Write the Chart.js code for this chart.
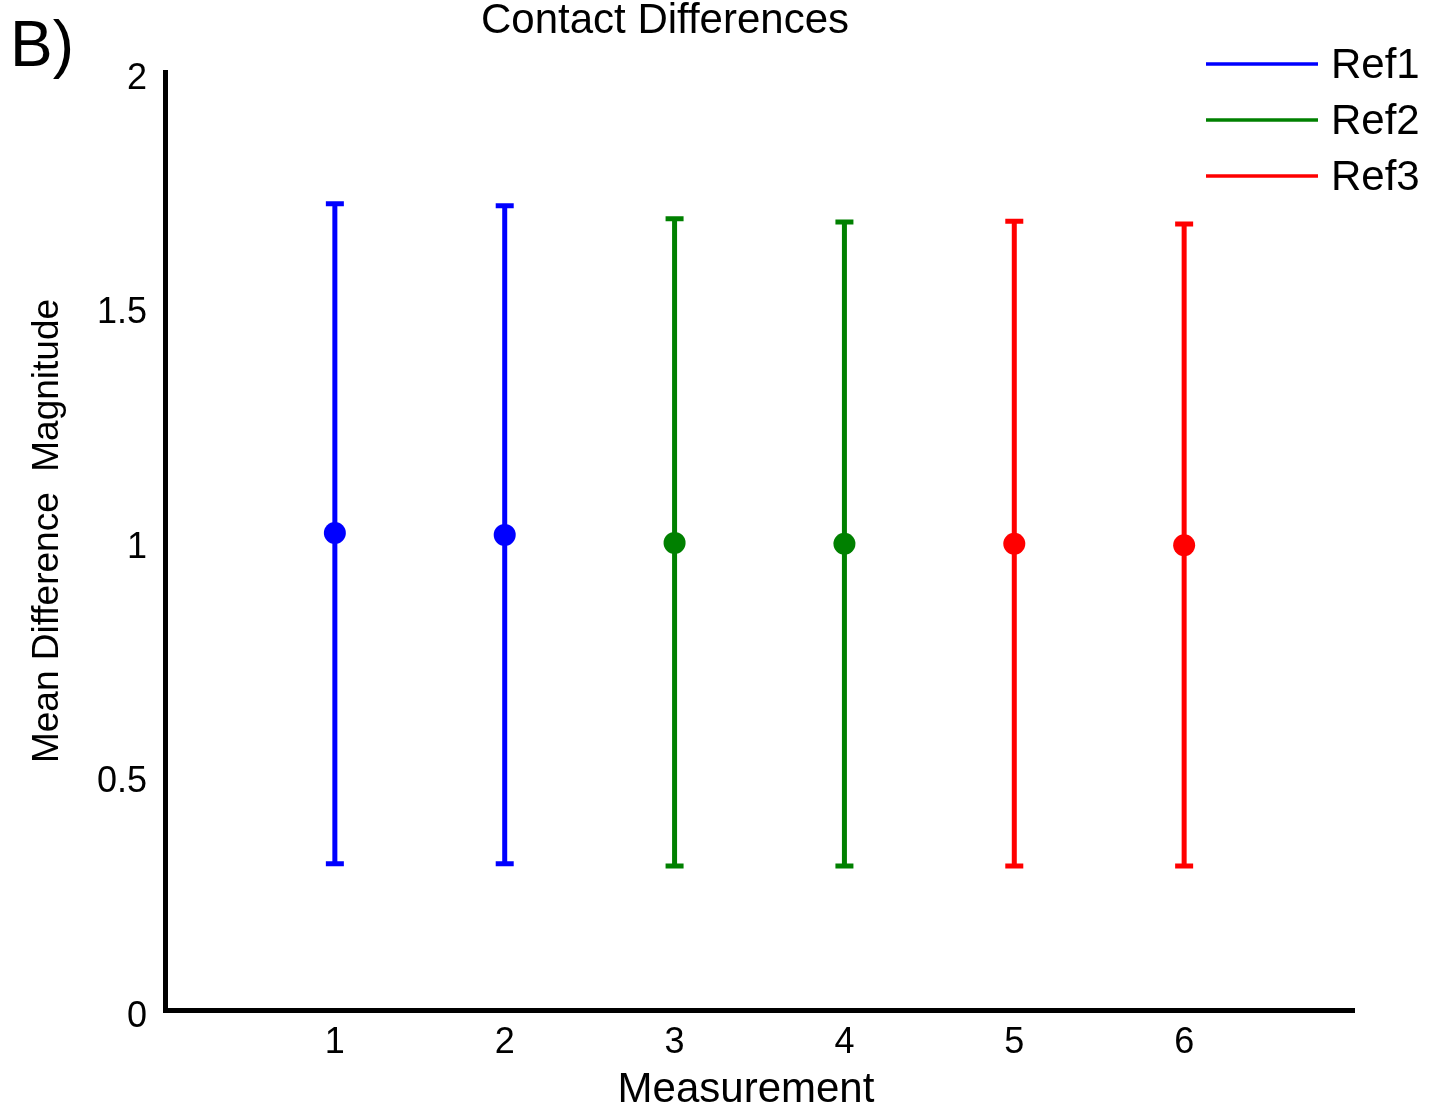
<!DOCTYPE html>
<html>
<head>
<meta charset="utf-8">
<script src="https://cdn.jsdelivr.net/npm/chart.js@4.4.1/dist/chart.umd.min.js"></script>
<style>
  html, body { margin: 0; padding: 0; background: #fff; }
  #wrap { width: 1429px; height: 1114px; }
</style>
</head>
<body>
<div id="wrap"><canvas id="myChart" width="1429" height="1114"></canvas></div>
<script>
// valores
var measurementTicks = [1, 2, 3, 4, 5, 6];
var yTicks = [0, 0.5, 1, 1.5, 2];

var refLabels = ['Ref1', 'Ref2', 'Ref3'];
var refColors = ['#0000ff', '#008000', '#ff0000'];

var ref1X = [1, 2];
var ref1Mean = [1.017, 1.013];
var ref1Low = [0.312, 0.312];
var ref1High = [1.719, 1.715];

var ref2X = [3, 4];
var ref2Mean = [0.996, 0.994];
var ref2Low = [0.307, 0.307];
var ref2High = [1.687, 1.680];

var ref3X = [5, 6];
var ref3Mean = [0.994, 0.991];
var ref3Low = [0.307, 0.307];
var ref3High = [1.682, 1.676];

var FONT = '"Liberation Sans", Arial, sans-serif';

function makeSet(i, xs, means, lows, highs) {
  var pts = [];
  for (var k = 0; k < xs.length; k++) {
    pts.push({ x: xs[k], y: means[k], low: lows[k], high: highs[k] });
  }
  return {
    label: refLabels[i],
    data: pts,
    backgroundColor: refColors[i],
    borderColor: refColors[i],
    pointRadius: 11,
    pointHoverRadius: 11,
    pointBorderWidth: 0,
    showLine: false
  };
}

// barras de erro, desenhadas antes dos pontos
var errorBars = {
  id: 'errorBars',
  beforeDatasetsDraw: function(chart) {
    var ctx = chart.ctx;
    var xs = chart.scales.x, ys = chart.scales.y;
    ctx.save();
    ctx.lineWidth = 5;
    chart.data.datasets.forEach(function(ds) {
      ctx.strokeStyle = ds.borderColor;
      ds.data.forEach(function(p) {
        var px = xs.getPixelForValue(p.x);
        var top = ys.getPixelForValue(p.high);
        var bot = ys.getPixelForValue(p.low);
        ctx.beginPath();
        ctx.moveTo(px, top);
        ctx.lineTo(px, bot);
        ctx.moveTo(px - 9, top);
        ctx.lineTo(px + 9, top);
        ctx.moveTo(px - 9, bot);
        ctx.lineTo(px + 9, bot);
        ctx.stroke();
      });
    });
    ctx.restore();
  }
};

// títulos e legenda
var extras = {
  id: 'extras',
  afterDraw: function(chart) {
    var ctx = chart.ctx;
    ctx.save();
    ctx.fillStyle = '#000';
    ctx.textBaseline = 'alphabetic';

    ctx.font = '64px ' + FONT;
    ctx.textAlign = 'left';
    ctx.fillText('B)', 10, 66);

    ctx.font = '42px ' + FONT;
    ctx.textAlign = 'center';
    ctx.fillText('Contact Differences', 665, 33);

    ctx.fillText('Measurement', 746, 1102);

    ctx.save();
    ctx.translate(58, 531);
    ctx.rotate(-Math.PI / 2);
    ctx.font = '37px ' + FONT;
    ctx.fillText('Mean Difference  Magnitude', 0, 0);
    ctx.restore();

    // legenda
    ctx.font = '42px ' + FONT;
    ctx.textAlign = 'left';
    ctx.textBaseline = 'middle';
    chart.data.datasets.forEach(function(ds, i) {
      var y = 64 + i * 56;
      ctx.strokeStyle = ds.borderColor;
      ctx.lineWidth = 3.5;
      ctx.beginPath();
      ctx.moveTo(1206, y);
      ctx.lineTo(1318, y);
      ctx.stroke();
      ctx.fillStyle = '#000';
      ctx.fillText(ds.label, 1331, y + 2);
    });
    ctx.restore();
  }
};

var ctx = document.getElementById('myChart').getContext('2d');
var chart = new Chart(ctx, {
  type: 'scatter',
  data: {
    datasets: [
      makeSet(0, ref1X, ref1Mean, ref1Low, ref1High),
      makeSet(1, ref2X, ref2Mean, ref2Low, ref2High),
      makeSet(2, ref3X, ref3Mean, ref3Low, ref3High)
    ]
  },
  options: {
    responsive: false,
    devicePixelRatio: 1,
    animation: false,
    layout: { padding: { left: 0, right: 75, top: 72, bottom: 0 } },
    plugins: {
      legend: { display: false },
      tooltip: { enabled: false }
    },
    scales: {
      x: {
        type: 'linear',
        min: 0,
        max: 7,
        afterBuildTicks: function(scale) {
          scale.ticks = measurementTicks.map(function(v) { return { value: v }; });
        },
        afterFit: function(scale) { scale.height = 104; },
        grid: { display: false, drawTicks: false },
        border: { display: true, color: '#000', width: 5 },
        ticks: {
          color: '#000',
          padding: 11,
          font: { family: FONT, size: 36 },
          callback: function(v) { return String(v); }
        }
      },
      y: {
        type: 'linear',
        min: 0,
        max: 2,
        afterBuildTicks: function(scale) {
          scale.ticks = yTicks.map(function(v) { return { value: v }; });
        },
        afterFit: function(scale) { scale.width = 165; },
        grid: { display: false, drawTicks: false },
        border: { display: true, color: '#000', width: 5 },
        ticks: {
          color: '#000',
          padding: 18,
          labelOffset: 7,
          font: { family: FONT, size: 36 },
          callback: function(v) { return String(v); }
        }
      }
    }
  },
  plugins: [errorBars, extras]
});
</script>
</body>
</html>
